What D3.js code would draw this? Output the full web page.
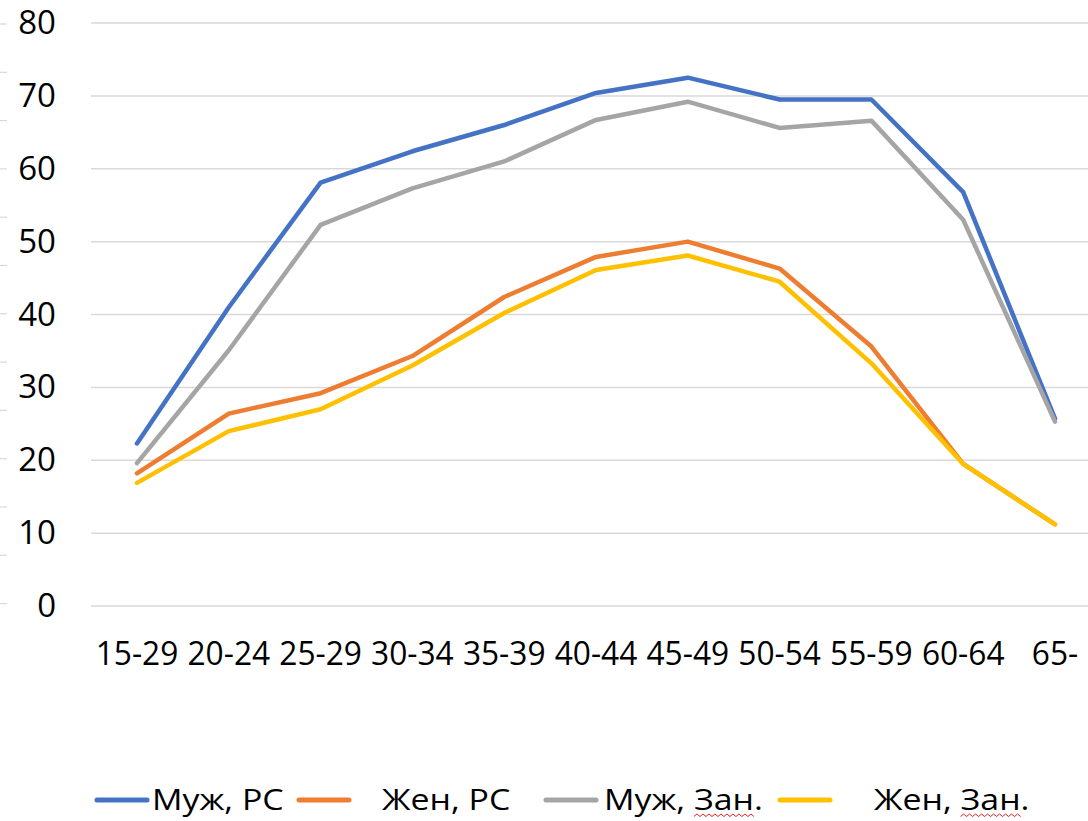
<!DOCTYPE html>
<html>
<head>
<meta charset="utf-8">
<script src="https://cdn.jsdelivr.net/npm/d3@7"></script>
<style>
  body { margin: 0; background: #fff; }
  svg { display: block; }
</style>
</head>
<body>
<div id="chart"></div>
<script>
var width = 1088,
    height = 821;

// age groups (as labelled in the source)
var categories = ["15-29", "20-24", "25-29", "30-34", "35-39", "40-44", "45-49", "50-54", "55-59", "60-64", "65-"];

var menRS    = [22.3, 41.0, 58.1, 62.4, 66.0, 70.4, 72.5, 69.5, 69.5, 56.8, 25.7];
var womenRS  = [18.2, 26.4, 29.2, 34.3, 42.4, 47.9, 50.0, 46.3, 35.6, 19.5, 11.2];
var menEmp   = [19.6, 35.1, 52.3, 57.3, 61.0, 66.7, 69.2, 65.6, 66.6, 53.0, 25.3];
var womenEmp = [16.9, 24.0, 27.0, 33.0, 40.2, 46.1, 48.1, 44.5, 33.3, 19.5, 11.2];

var seriesNames  = ["Муж, РС", "Жен, РС", "Муж, Зан.", "Жен, Зан."];
var seriesColors = ["#4472C4", "#ED7D31", "#A5A5A5", "#FFC000"];

var yTicks = [0, 10, 20, 30, 40, 50, 60, 70, 80];

var series = [menRS, womenRS, menEmp, womenEmp].map(function(v, i) {
  return {name: seriesNames[i], color: seriesColors[i], values: v};
});

var svg = d3.select("#chart").append("svg")
    .attr("width", width)
    .attr("height", height);

var x = d3.scalePoint().domain(categories).range([137, 1055]);
var y = d3.scaleLinear().domain([0, 80]).range([606, 23]);

// stray tick marks on the left edge of the picture
svg.append("g").selectAll("line")
    .data(d3.range(0, 13))
  .enter().append("line")
    .attr("x1", 0).attr("x2", 7)
    .attr("y1", function(d) { return 24 + d * 48.3; })
    .attr("y2", function(d) { return 24 + d * 48.3; })
    .attr("stroke", "#d9d9d9")
    .attr("stroke-width", 1.2);

// gridlines
svg.append("g").selectAll("line")
    .data(yTicks)
  .enter().append("line")
    .attr("x1", 91).attr("x2", width)
    .attr("y1", function(d) { return y(d); })
    .attr("y2", function(d) { return y(d); })
    .attr("stroke", "#d9d9d9")
    .attr("stroke-width", 1.5);

// y labels
svg.append("g").selectAll("text")
    .data(yTicks)
  .enter().append("text")
    .attr("x", 56)
    .attr("y", function(d) { return y(d) + 11; })
    .attr("text-anchor", "end")
    .style("font-family", "'Open Sans', sans-serif")
    .style("font-size", "33px")
    .style("fill", "#000")
    .text(function(d) { return d; });

// x labels
svg.append("g").selectAll("text")
    .data(categories)
  .enter().append("text")
    .attr("transform", function(d) { return "translate(" + x(d) + ",665) scale(0.96,1)"; })
    .attr("text-anchor", "middle")
    .style("font-family", "'Open Sans', sans-serif")
    .style("font-size", "33px")
    .style("fill", "#000")
    .text(function(d) { return d; });

var line = d3.line()
    .x(function(d, i) { return x(categories[i]); })
    .y(function(d) { return y(d); });

svg.append("g").selectAll("path")
    .data(series)
  .enter().append("path")
    .attr("d", function(d) { return line(d.values); })
    .attr("fill", "none")
    .attr("stroke", function(d) { return d.color; })
    .attr("stroke-width", 4.5)
    .attr("stroke-linejoin", "round")
    .attr("stroke-linecap", "round");

// legend
var legendX = [97, 299, 546, 780];
var legendTextX = [152, 382, 604, 874];
var legendScale = 1.13;

var legend = svg.append("g").selectAll("g")
    .data(series)
  .enter().append("g")
    .attr("transform", function(d, i) { return "translate(" + legendTextX[i] + ",0)"; });

legend.append("line")
    .attr("x1", function(d, i) { return legendX[i] - legendTextX[i]; })
    .attr("x2", function(d, i) { return legendX[i] - legendTextX[i] + 50; })
    .attr("y1", 800).attr("y2", 800)
    .attr("stroke", function(d) { return d.color; })
    .attr("stroke-width", 5)
    .attr("stroke-linecap", "round");

legend.append("text")
    .attr("transform", "translate(0,810) scale(" + legendScale + ",1)")
    .style("font-family", "'Open Sans', sans-serif")
    .style("font-size", "30px")
    .style("fill", "#000")
    .text(function(d) { return d.name; });

// spell-check squiggle under "Зан"
legend.each(function(d) {
  var k = d.name.indexOf("Зан");
  if (k < 0) return;
  var t = d3.select(this).select("text").node();
  var start = t.getSubStringLength(0, k) * legendScale;
  var len = t.getSubStringLength(k, 3) * legendScale;
  var p = "M" + start + ",816.5";
  for (var s = 1; s * 3 <= len; s++) p += "L" + (start + s * 3) + "," + (s % 2 ? 814 : 816.5);
  d3.select(this).append("path")
      .attr("d", p)
      .attr("fill", "none")
      .attr("stroke", "#e02020")
      .attr("stroke-width", 1);
});
</script>
</body>
</html>
